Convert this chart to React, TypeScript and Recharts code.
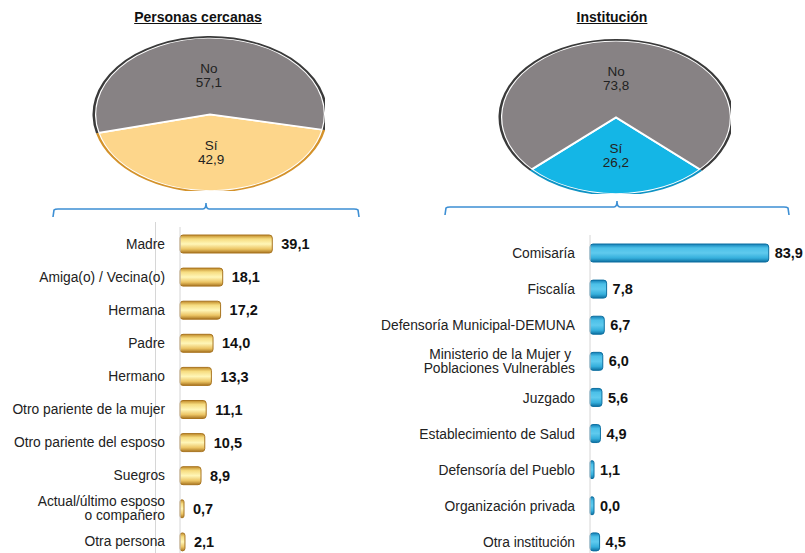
import { Bar, BarChart, Cell, LabelList, Pie, PieChart, XAxis, YAxis } from "recharts";

const FONT = "'Liberation Sans', Arial, sans-serif";

const pieLabels = ["Sí", "No"];
const cercanasPie = [42.9, 57.1];
const institucionPie = [26.2, 73.8];

const cercanasCats = [
  "Madre",
  "Amiga(o) / Vecina(o)",
  "Hermana",
  "Padre",
  "Hermano",
  "Otro pariente de la mujer",
  "Otro pariente del esposo",
  "Suegros",
  "Actual/último esposo\no compañero",
  "Otra persona",
];
const cercanasVals = [39.1, 18.1, 17.2, 14.0, 13.3, 11.1, 10.5, 8.9, 0.7, 2.1];

const institucionCats = [
  "Comisaría",
  "Fiscalía",
  "Defensoría Municipal-DEMUNA",
  "Ministerio de la Mujer y \nPoblaciones Vulnerables",
  "Juzgado",
  "Establecimiento de Salud",
  "Defensoría del Pueblo",
  "Organización privada",
  "Otra institución",
];
const institucionVals = [83.9, 7.8, 6.7, 6.0, 5.6, 4.9, 1.1, 0.0, 4.5];

const fmt = (v: number) => v.toFixed(1).replace(".", ",");

const SQUASH = 0.667;

function PieLabel(props: any) {
  const { cx, cy, midAngle, outerRadius, name, value } = props;
  const rad = (Math.PI / 180) * midAngle;
  const x = cx + outerRadius * 0.5 * Math.cos(rad);
  const y = cy - outerRadius * 0.5 * Math.sin(rad);
  return (
    <text
      transform={`translate(${x},${y}) scale(1,${1 / SQUASH})`}
      textAnchor="middle"
      fontFamily={FONT}
      fontSize={13.5}
      fill="#222"
    >
      <tspan x={0} dy={-3}>{name}</tspan>
      <tspan x={0} dy={14.5}>{fmt(value)}</tspan>
    </text>
  );
}

function EllipsePie({
  values,
  fills,
  strokes,
  start,
}: {
  values: number[];
  fills: string[];
  strokes: string[];
  start: number;
}) {
  const data = values.map((v, i) => ({ name: pieLabels[i], value: v }));
  return (
    <div style={{ transform: `scaleY(${SQUASH})`, transformOrigin: "center" }}>
      <PieChart width={240} height={240}>
        <Pie
          data={data}
          dataKey="value"
          cx={120}
          cy={120}
          outerRadius={115}
          startAngle={start}
          endAngle={start + 360}
          stroke="#fff"
          strokeWidth={2.5}
          label={PieLabel}
          labelLine={false}
          isAnimationActive={false}
        >
          {data.map((_, i) => (
            <Cell key={i} fill={fills[i]} />
          ))}
        </Pie>
        <Pie
          data={data}
          dataKey="value"
          cx={120}
          cy={120}
          innerRadius={115}
          outerRadius={117.5}
          startAngle={start}
          endAngle={start + 360}
          stroke="none"
          isAnimationActive={false}
        >
          {data.map((_, i) => (
            <Cell key={i} fill={strokes[i]} />
          ))}
        </Pie>
      </PieChart>
    </div>
  );
}

function CatTick(props: any) {
  const { x, y, payload } = props;
  const lines = String(payload.value).split("\n");
  const start = -((lines.length - 1) * 14) / 2 + 5;
  return (
    <text x={x} y={y} textAnchor="end" fontFamily={FONT} fontSize={13.8} fill="#222">
      {lines.map((l, i) => (
        <tspan key={i} x={x} dy={i === 0 ? start : 14}>
          {l}
        </tspan>
      ))}
    </text>
  );
}

function HBars({
  cats,
  vals,
  width,
  height,
  axisWidth,
  rightPad,
  max,
  fill,
  gradId,
  labelGap,
}: {
  cats: string[];
  vals: number[];
  width: number;
  height: number;
  axisWidth: number;
  rightPad: number;
  max: number;
  fill: string[];
  gradId: string;
  labelGap: number;
}) {
  const data = cats.map((c, i) => ({ cat: c, value: vals[i] }));
  return (
    <BarChart
      width={width}
      height={height}
      data={data}
      layout="vertical"
      margin={{ top: 0, right: rightPad, bottom: 0, left: 0 }}
      barCategoryGap={0}
    >
      <defs>
        <linearGradient id={gradId} x1="0" y1="0" x2="0" y2="1">
          <stop offset="0%" stopColor={fill[0]} />
          <stop offset="22%" stopColor={fill[1]} />
          <stop offset="50%" stopColor={fill[2]} />
          <stop offset="78%" stopColor={fill[3]} />
          <stop offset="100%" stopColor={fill[4]} />
        </linearGradient>
      </defs>
      <XAxis type="number" domain={[0, max]} hide />
      <YAxis
        type="category"
        dataKey="cat"
        width={axisWidth}
        tick={CatTick}
        tickLine={false}
        tickSize={0}
        tickMargin={15}
        axisLine={{ stroke: "#d6d6d6" }}
        interval={0}
      />
      <Bar
        dataKey="value"
        fill={`url(#${gradId})`}
        stroke={fill[4]}
        strokeWidth={1}
        barSize={18}
        radius={3}
        minPointSize={4}
        isAnimationActive={false}
      >
        <LabelList
          dataKey="value"
          position="right"
          offset={labelGap}
          formatter={(v: any) => fmt(Number(v))}
          style={{ fontFamily: FONT, fontSize: 14.5, fontWeight: 700, fill: "#111" }}
        />
      </Bar>
    </BarChart>
  );
}

function Brace({ left, right, peak, y }: { left: number; right: number; peak: number; y: number }) {
  return (
    <svg
      width={805}
      height={30}
      style={{ position: "absolute", left: 0, top: y - 12 }}
    >
      <path
        d={`M${left},20 L${left + 1},13 Q${left + 2},12 ${left + 5},12 L${peak - 3},12 Q${peak},12 ${peak},6 Q${peak},12 ${peak + 3},12 L${right - 5},12 Q${right - 2},12 ${right - 1},13 L${right},20`}
        fill="none"
        stroke="#3d8fd4"
        strokeWidth={1.6}
      />
    </svg>
  );
}

const titleStyle: React.CSSProperties = {
  position: "absolute",
  top: 9,
  fontFamily: FONT,
  fontSize: 14,
  fontWeight: 700,
  textDecoration: "underline",
  color: "#111",
  transform: "translateX(-50%)",
  whiteSpace: "nowrap",
};

export default function App() {
  return (
    <div
      style={{
        position: "absolute",
        left: 0,
        top: 0,
        width: 805,
        height: 553,
        overflow: "hidden",
        background: "#fff",
      }}
    >
      <div style={{ ...titleStyle, left: 198 }}>Personas cercanas</div>
      <div style={{ ...titleStyle, left: 612 }}>Institución</div>

      <div style={{ position: "absolute", left: 85, top: -9 }}>
        <EllipsePie
          values={cercanasPie}
          fills={["#fdd68b", "#878284"]}
          strokes={["#d4922a", "#3a3a3a"]}
          start={-166}
        />
      </div>
      <div style={{ position: "absolute", left: 491, top: -6 }}>
        <EllipsePie
          values={institucionPie}
          fills={["#14b6e6", "#878284"]}
          strokes={["#0e93c4", "#3a3a3a"]}
          start={-137.2}
        />
      </div>

      <Brace left={53} right={359} peak={206} y={209} />
      <Brace left={445} right={789} peak={617} y={207} />

      <div style={{ position: "absolute", left: 155, top: 222, width: 1, height: 340, background: "#d6d6d6" }} />

      <div style={{ position: "absolute", left: 0, top: 227 }}>
        <HBars
          cats={cercanasCats}
          vals={cercanasVals}
          width={340}
          height={331}
          axisWidth={180}
          rightPad={42}
          max={50}
          fill={["#c08a28", "#f6dc80", "#fff6b8", "#ecc565", "#a87420"]}
          gradId="gold"
          labelGap={9}
        />
      </div>
      <div style={{ position: "absolute", left: 360, top: 235 }}>
        <HBars
          cats={institucionCats}
          vals={institucionVals}
          width={445}
          height={325}
          axisWidth={230}
          rightPad={2}
          max={100}
          fill={["#137fb6", "#4cc0e8", "#5fcaee", "#35afdc", "#0d6fa0"]}
          gradId="blue"
          labelGap={6}
        />
      </div>
    </div>
  );
}
